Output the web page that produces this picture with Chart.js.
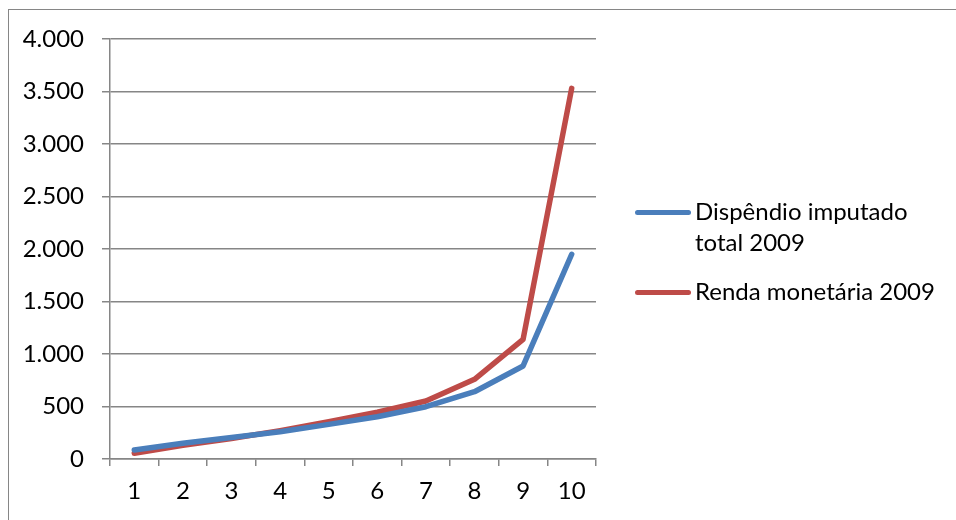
<!DOCTYPE html>
<html lang="pt">
<head>
  <meta charset="UTF-8" />
  <title>Dispêndio x Renda 2009</title>
  <script src="https://cdn.jsdelivr.net/npm/chart.js"></script>
  <style>
    * { box-sizing: border-box; font-family: 'Lato', sans-serif; }
    body { margin: 0; background: #fff; width: 956px; height: 520px; overflow: hidden; }
    .wrap { position: relative; width: 956px; height: 520px; }
    .frame { position: absolute; left: 8px; top: 9px; width: 950px; height: 515px; border: 1px solid #868686; }
    canvas { position: absolute; left: 0; top: 0; }
    .legend { position: absolute; left: 635px; top: 0; }
    .item { position: absolute; left: 0; display: flex; align-items: flex-start; }
    .swatch { width: 56px; height: 5px; border-radius: 3px; margin-top: 15px; }
    .text { width: 262px; margin-left: 4px; font-size: 24px; line-height: 31px; color: #000; }
  </style>
</head>
<body>
  <div class="wrap">
    <div class="frame"></div>
    <canvas id="chart" width="956" height="520"></canvas>
    <div class="legend" id="legend"></div>
  </div>

  <script>
    const deciles = ["1", "2", "3", "4", "5", "6", "7", "8", "9", "10"];
    const dispendio = [85, 150, 205, 260, 330, 403, 498, 641, 886, 1950];
    const renda = [55, 130, 195, 270, 355, 445, 552, 759, 1140, 3530];
    const seriesNames = ["Dispêndio imputado total 2009", "Renda monetária 2009"];
    const seriesColors = ["#4A7EBB", "#BE4B48"];
    const yTicks = [0, 500, 1000, 1500, 2000, 2500, 3000, 3500, 4000];

    const axisGrey = "#868686";
    const fmt = v => String(v).replace(/\B(?=(\d{3})+(?!\d))/g, ".");

    new Chart(document.getElementById("chart"), {
      type: "line",
      data: {
        labels: deciles,
        datasets: [
          { label: seriesNames[0], data: dispendio, borderColor: seriesColors[0], backgroundColor: seriesColors[0] },
          { label: seriesNames[1], data: renda, borderColor: seriesColors[1], backgroundColor: seriesColors[1] }
        ]
      },
      options: {
        responsive: false,
        animation: false,
        devicePixelRatio: 1,
        layout: { padding: { top: 39, right: 360, bottom: 0, left: 0 } },
        elements: {
          line: { borderWidth: 5.5, tension: 0, borderCapStyle: "round", borderJoinStyle: "round" },
          point: { radius: 0 }
        },
        plugins: { legend: { display: false }, tooltip: { enabled: false } },
        scales: {
          x: {
            offset: true,
            afterFit: s => { s.height = 61; },
            grid: { offset: true, drawOnChartArea: false, drawTicks: true, tickLength: 7, color: axisGrey, lineWidth: 1.5 },
            border: { color: axisGrey, width: 1.5 },
            ticks: { color: "#000", font: { family: "Lato", size: 24 }, padding: 11, maxRotation: 0 }
          },
          y: {
            min: 0,
            max: 4000,
            afterFit: s => { s.width = 110; },
            afterBuildTicks: s => { s.ticks = yTicks.map(v => ({ value: v })); },
            grid: { color: axisGrey, lineWidth: 1.5, drawTicks: true, tickLength: 8 },
            border: { color: axisGrey, width: 1.5 },
            ticks: { color: "#000", font: { family: "Lato", size: 24 }, padding: 18, callback: v => fmt(v) }
          }
        }
      }
    });

    // legenda à direita
    const legend = document.getElementById("legend");
    const tops = [195, 275];
    seriesNames.forEach((name, i) => {
      const item = document.createElement("div");
      item.className = "item";
      item.style.top = tops[i] + "px";
      item.innerHTML = `<div class="swatch" style="background:${seriesColors[i]}"></div><div class="text">${name}</div>`;
      legend.appendChild(item);
    });
  </script>
</body>
</html>
